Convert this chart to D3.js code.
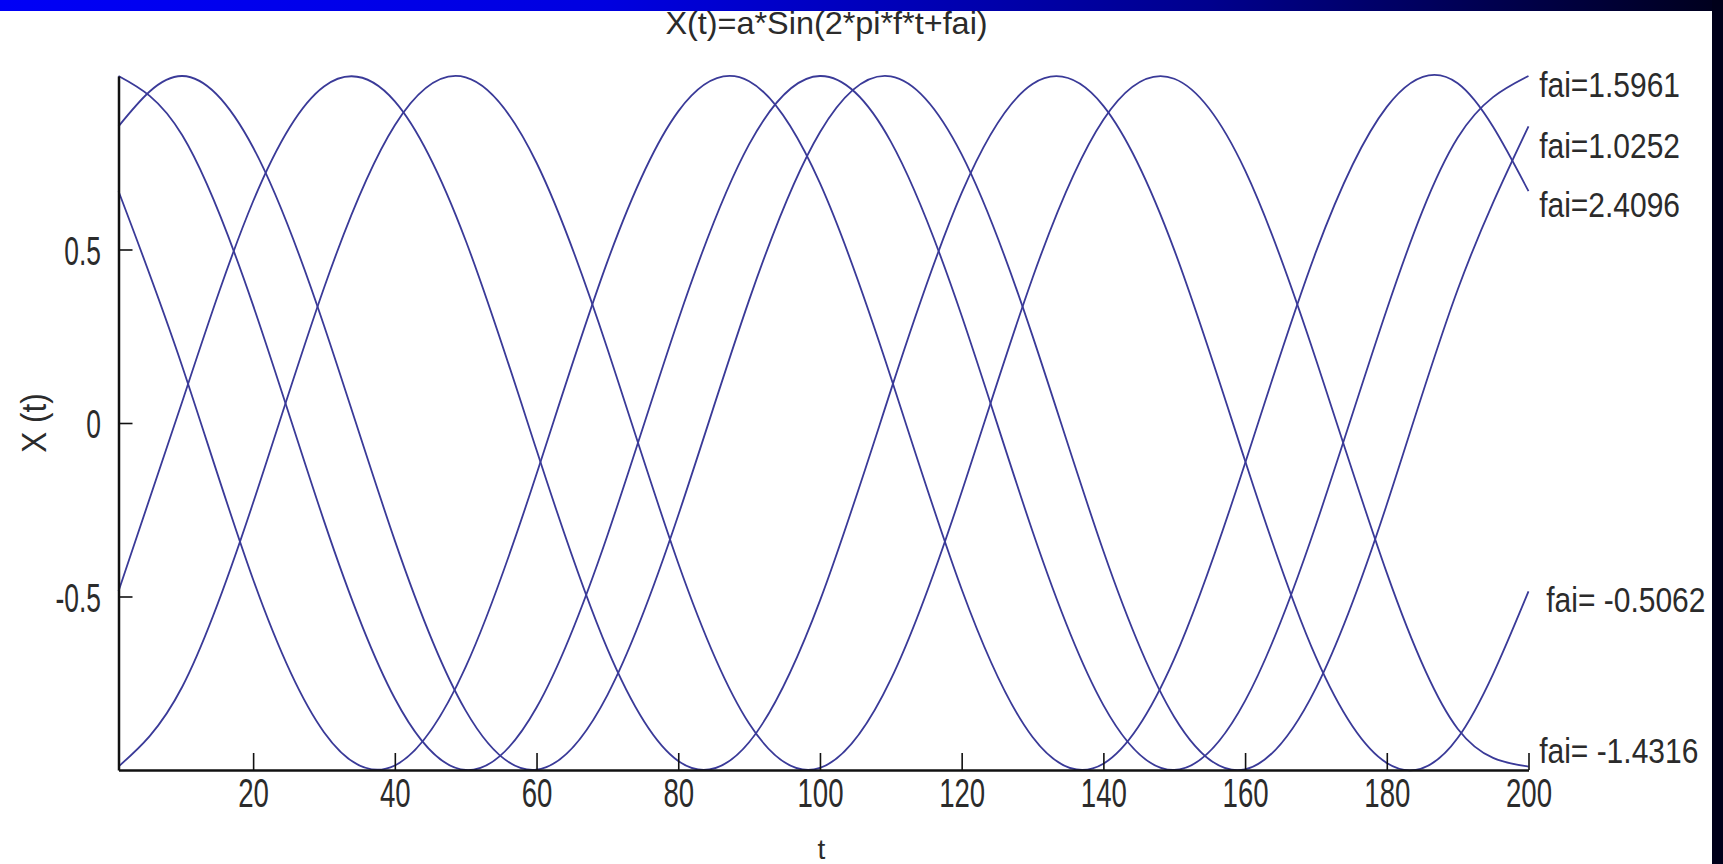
<!DOCTYPE html>
<html>
<head>
<meta charset="utf-8">
<script src="https://cdn.jsdelivr.net/npm/d3@7/dist/d3.min.js"></script>
<style>
  html, body { margin: 0; padding: 0; background: #ffffff; }
  svg { display: block; }
  text { font-family: "Liberation Sans", Arial, sans-serif; fill: #2b2b2b; }
</style>
</head>
<body>
<svg id="chart" width="1723" height="864"></svg>
<script>
// ---- data ----
const titleText = "X(t)=a*Sin(2*pi*f*t+fai)";
const xLabel = "t";
const yLabel = "X (t)";
const tValues = [1, 10, 20, 30, 40, 50, 60, 70, 80, 90, 100, 110, 120, 130, 140, 150, 160, 170, 180, 190, 200];
const seriesFai15961 = [1.000, 0.829, 0.339, -0.282, -0.794, -1.000, -0.820, -0.324, 0.297, 0.803, 1.000, 0.811, 0.309, -0.312, -0.813, -1.000, -0.801, -0.294, 0.327, 0.822, 1.000];
const seriesFai10252 = [0.855, 1.000, 0.794, 0.281, -0.339, -0.829, -0.999, -0.784, -0.266, 0.354, 0.838, 0.999, 0.774, 0.251, -0.369, -0.847, -0.998, -0.764, -0.235, 0.384, 0.855];
const seriesFai24096 = [0.668, 0.163, -0.451, -0.891, -0.987, -0.703, -0.147, 0.465, 0.898, 0.985, 0.691, 0.132, -0.479, -0.905, -0.982, -0.680, -0.116, 0.493, 0.911, 0.979, 0.668];
const seriesFaiM05062 = [-0.485, 0.062, 0.639, 0.970, 0.927, 0.526, -0.078, -0.651, -0.974, -0.920, -0.512, 0.094, 0.663, 0.977, 0.914, 0.499, -0.109, -0.675, -0.980, -0.908, -0.485];
const seriesFaiM14316 = [-0.990, -0.760, -0.230, 0.389, 0.858, 0.996, 0.750, 0.214, -0.404, -0.866, -0.994, -0.739, -0.199, 0.418, 0.874, 0.992, 0.728, 0.183, -0.432, -0.881, -0.990];
const seriesLabels = ["fai=1.5961", "fai=1.0252", "fai=2.4096", "fai= -0.5062", "fai= -1.4316"];
const labelAnchorT = [201.5, 201.5, 201.5, 202.5, 201.5];
const labelAnchorValue = [0.975, 0.80, 0.63, -0.51, -0.945];
const xTicks = [20, 40, 60, 80, 100, 120, 140, 160, 180, 200];
const yTicks = [-0.5, 0, 0.5];
const xDomain = [1, 200];
const yDomain = [-1, 1];

const allSeries = [seriesFai15961, seriesFai10252, seriesFai24096, seriesFaiM05062, seriesFaiM14316];

// ---- drawing ----
const W = 1723, H = 864;
const svg = d3.select("#chart");

const defs = svg.append("defs");
const grad = defs.append("linearGradient").attr("id", "band").attr("x1", "0%").attr("x2", "100%").attr("y1", "0%").attr("y2", "0%");
grad.append("stop").attr("offset", "0%").attr("stop-color", "#0000f6");
grad.append("stop").attr("offset", "35%").attr("stop-color", "#0000e0");
grad.append("stop").attr("offset", "70%").attr("stop-color", "#00008e");
grad.append("stop").attr("offset", "100%").attr("stop-color", "#00001c");

svg.append("rect").attr("x", 0).attr("y", 0).attr("width", W).attr("height", H).attr("fill", "#ffffff");

const x = d3.scaleLinear().domain(xDomain).range([118.5, 1528.5]);
const y = d3.scaleLinear().domain(yDomain).range([770, 76]);

const line = d3.line()
  .x((d, i) => x(tValues[i]))
  .y(d => y(d))
  .curve(d3.curveNatural);

svg.append("g").selectAll("path")
  .data(allSeries)
  .join("path")
  .attr("d", d => line(d))
  .attr("fill", "none")
  .attr("stroke", "#3a3a98")
  .attr("stroke-width", 1.8);

const FONT = 30;

// axes (left and bottom only, ticks pointing inward)
const xAxis = d3.axisBottom(x).tickValues(xTicks).tickSizeInner(-17).tickSizeOuter(0).tickFormat(d3.format("d"));
const gx = svg.append("g").attr("transform", `translate(0,${y(-1)})`).call(xAxis);
gx.select(".domain").attr("stroke", "#111").attr("stroke-width", 2.5);
gx.selectAll(".tick line").attr("stroke", "#111").attr("stroke-width", 1.6);
gx.selectAll(".tick text")
  .attr("x", 0).attr("y", 0).attr("dy", null)
  .attr("font-size", FONT).style("fill", "#2b2b2b").attr("font-family", "Liberation Sans, Arial, sans-serif")
  .attr("transform", "translate(0,37) scale(0.92,1.35)");

const yAxis = d3.axisLeft(y).tickValues(yTicks).tickSizeInner(-14).tickSizeOuter(0)
  .tickFormat(d => d === 0 ? "0" : d3.format(".1f")(d).replace("\u2212", "-"));
const gy = svg.append("g").attr("transform", `translate(${x(1)},0)`).call(yAxis);
gy.select(".domain").attr("stroke", "#111").attr("stroke-width", 2.5);
gy.selectAll(".tick line").attr("stroke", "#111").attr("stroke-width", 1.6);
gy.selectAll(".tick text")
  .attr("x", 0).attr("y", 0).attr("dy", null)
  .attr("font-size", FONT).style("fill", "#2b2b2b").attr("font-family", "Liberation Sans, Arial, sans-serif")
  .attr("transform", "translate(-17.5,14.5) scale(0.88,1.35)");

// title and axis labels
svg.append("text")
  .attr("transform", `translate(${(x(1) + x(200)) / 2 + 3},34) scale(1.2,1.15)`)
  .attr("text-anchor", "middle").attr("font-size", 27).text(titleText);
svg.append("text")
  .attr("transform", `translate(${(x(1) + x(200)) / 2 - 2},859)`)
  .attr("text-anchor", "middle").attr("font-size", 28).text(xLabel);
svg.append("text")
  .attr("transform", `translate(46,${y(0)}) rotate(-90) scale(1.05,1.15)`)
  .attr("text-anchor", "middle").attr("font-size", FONT).text(yLabel);

// series labels at right
svg.append("g").selectAll("text")
  .data(seriesLabels)
  .join("text")
  .attr("transform", (d, i) => `translate(${x(labelAnchorT[i])},${y(labelAnchorValue[i]) + 12.4}) scale(1,1.15)`)
  .attr("font-size", FONT)
  .text(d => d);

// slide frame: gradient band on top and dark band on the right
svg.append("rect").attr("x", 0).attr("y", 0).attr("width", W).attr("height", 11).attr("fill", "url(#band)");
svg.append("rect").attr("x", 1712).attr("y", 0).attr("width", 11).attr("height", H).attr("fill", "#00001a");
</script>
</body>
</html>
